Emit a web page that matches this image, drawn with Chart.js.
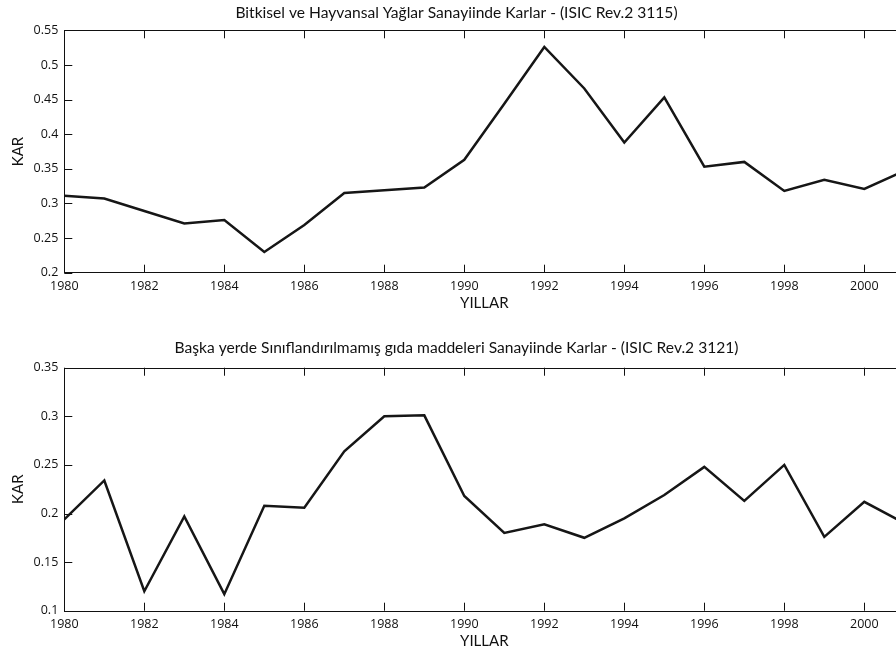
<!DOCTYPE html>
<html>
<head>
<meta charset="utf-8">
<script src="https://cdn.jsdelivr.net/npm/chart.js@4/dist/chart.umd.min.js"></script>
<style>
  body { margin: 0; background: #fff; overflow: hidden; width: 896px; height: 653px; position: relative; }
  canvas { position: absolute; left: 0; }
</style>
</head>
<body>
<canvas id="top" width="913" height="320" style="top:0px"></canvas>
<canvas id="bottom" width="913" height="333" style="top:320px"></canvas>
<script>
// years on the x axis
var years = [1980,1981,1982,1983,1984,1985,1986,1987,1988,1989,1990,1991,1992,1993,1994,1995,1996,1997,1998,1999,2000,2001];

// ISIC Rev.2 3115 - Bitkisel ve Hayvansal Yaglar
var kar3115 = [0.311,0.307,0.289,0.271,0.276,0.230,0.269,0.315,0.319,0.323,0.363,0.444,0.526,0.466,0.388,0.453,0.353,0.360,0.318,0.334,0.321,0.347];

// ISIC Rev.2 3121 - gida maddeleri
var kar3121 = [0.194,0.234,0.120,0.197,0.117,0.208,0.206,0.264,0.300,0.301,0.218,0.180,0.189,0.175,0.195,0.219,0.248,0.213,0.250,0.176,0.212,0.190];

var title3115 = 'Bitkisel ve Hayvansal Yağlar Sanayiinde Karlar - (ISIC Rev.2 3115)';
var title3121 = 'Başka yerde Sınıflandırılmamış gıda maddeleri Sanayiinde Karlar - (ISIC Rev.2 3121)';

var FONT = 'Lato';
var TICKFONT = 'Open Sans';

// matlab style box + inward ticks
const boxTicks = {
  id: 'boxTicks',
  afterDatasetsDraw(chart) {
    const ctx = chart.ctx, a = chart.chartArea;
    const x = chart.scales.x, y = chart.scales.y;
    const L = 8;
    ctx.save();
    ctx.strokeStyle = '#111';
    ctx.lineWidth = 1;
    ctx.beginPath();
    x.ticks.forEach(function (t, i) {
      var px = Math.round(x.getPixelForTick(i)) + 0.5;
      ctx.moveTo(px, a.bottom); ctx.lineTo(px, a.bottom - L);
      ctx.moveTo(px, a.top); ctx.lineTo(px, a.top + L);
    });
    y.ticks.forEach(function (t, i) {
      var py = Math.round(y.getPixelForTick(i)) + 0.5;
      ctx.moveTo(a.left, py); ctx.lineTo(a.left + L, py);
      ctx.moveTo(a.right, py); ctx.lineTo(a.right - L, py);
    });
    ctx.stroke();
    ctx.strokeRect(Math.round(a.left) + 0.5, Math.round(a.top) + 0.5,
      Math.round(a.right - a.left), Math.round(a.bottom - a.top));
    ctx.restore();
  }
};

function makePanel(id, title, values, yMin, yMax, cfg) {
  var pts = [];
  for (var i = 0; i < years.length; i++) pts.push({x: years[i], y: values[i]});
  return new Chart(document.getElementById(id), {
    type: 'line',
    data: {
      datasets: [{
        data: pts,
        borderColor: '#161616',
        borderWidth: 2.5,
        pointRadius: 0,
        tension: 0,
        fill: false
      }]
    },
    options: {
      responsive: false,
      animation: false,
      devicePixelRatio: 1,
      layout: { padding: 0 },
      plugins: {
        legend: { display: false },
        tooltip: { enabled: false },
        title: {
          display: true,
          text: title,
          color: '#111',
          font: { family: FONT, size: 15.6, weight: 'normal' },
          padding: { top: cfg.titleTop, bottom: cfg.titleBottom }
        }
      },
      scales: {
        x: {
          type: 'linear',
          min: 1980, max: 2001,
          grid: { display: false, drawTicks: false },
          border: { display: false },
          ticks: {
            stepSize: 2, includeBounds: false, autoSkip: false, maxRotation: 0,
            padding: 6, color: '#111',
            font: { family: TICKFONT, size: 12.5 },
            callback: function (v) { return String(v); }
          },
          title: {
            display: true, text: 'YILLAR', color: '#111',
            font: { family: FONT, size: 15 },
            padding: { top: 0, bottom: cfg.xTitleBottom }
          },
          afterFit: function (s) { s.height = cfg.xHeight; }
        },
        y: {
          min: yMin, max: yMax,
          grid: { display: false, drawTicks: false },
          border: { display: false },
          ticks: {
            stepSize: 0.05, padding: 6, color: '#111',
            font: { family: TICKFONT, size: 12.5 },
            callback: function (v) { return String(Number(v.toFixed(2))); }
          },
          title: {
            display: true, text: 'KAR', color: '#111',
            font: { family: FONT, size: 15 },
            padding: { top: 9, bottom: 0 }
          },
          afterFit: function (s) { s.width = 64.3; }
        },
        yr: {
          position: 'right',
          grid: { display: false, drawTicks: false },
          border: { display: false },
          ticks: { display: false },
          afterFit: function (s) { s.width = 8.7; }
        }
      }
    },
    plugins: [boxTicks]
  });
}

makePanel('top', title3115, kar3115, 0.2, 0.55,
  { titleTop: 3.6, titleBottom: 8, xHeight: 47.3, xTitleBottom: 7.7 });
makePanel('bottom', title3121, kar3121, 0.1, 0.35,
  { titleTop: 18.6, titleBottom: 10.4, xHeight: 42.3, xTitleBottom: 2.7 });
</script>
</body>
</html>
